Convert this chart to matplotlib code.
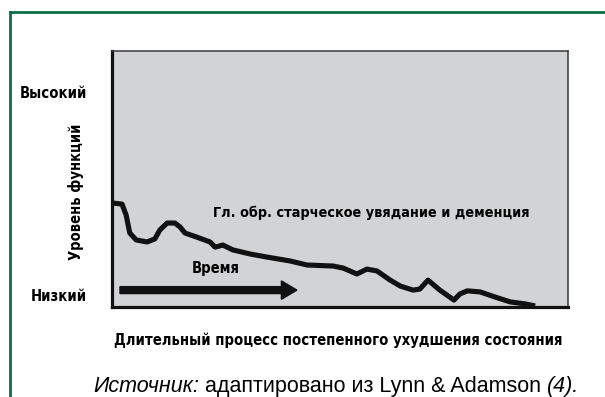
import os
import matplotlib
matplotlib.use("Agg")
import matplotlib.pyplot as plt
from matplotlib import font_manager
from matplotlib.font_manager import FontProperties
from matplotlib.lines import Line2D

# time axis (0-100) and functional level (0-100) of the decline curve
time = [0.2, 2.2, 3.1, 3.9, 5.3, 7.7, 9.4, 10.5, 12.1, 13.8, 14.9, 16.0, 18.6,
        21.5, 22.6, 23.5, 24.3, 26.5, 30.3, 34.0, 39.0, 42.8, 48.5, 50.7, 53.7,
        55.9, 58.1, 61.0, 63.2, 66.0, 67.5, 69.3, 71.9, 75.0, 76.3, 77.9, 80.7,
        84.0, 87.3, 90.6, 92.8]
level = [40.6, 40.2, 35.9, 28.9, 26.2, 25.4, 26.6, 30.1, 32.8, 32.8, 31.3, 28.9,
         27.3, 25.4, 23.4, 23.8, 24.2, 22.3, 20.7, 19.5, 18.0, 16.4, 16.0, 15.2,
         12.9, 14.8, 14.1, 10.5, 8.2, 6.6, 7.0, 10.5, 6.6, 2.7, 5.1, 6.3, 5.9,
         3.9, 2.0, 1.2, 0.4]

tick_levels = [4.7, 84.0]
tick_labels = ["Низкий", "Высокий"]

curve_label = "Гл. обр. старческое увядание и деменция"
arrow_label = "Время"
x_label = "Длительный процесс постепенного ухудшения состояния"
y_label = "Уровень функций"


def pick_narrow_bold():
    """Find a narrow bold sans face among the installed fonts."""
    files = {}
    for f in font_manager.fontManager.ttflist:
        files[os.path.splitext(os.path.basename(f.fname))[0].lower()] = f.fname
    wanted = ["liberationsansnarrow-bold", "notosans-semicondensedbold",
              "opensans-semicondensedbold", "roboto-semicondensedbold",
              "dejavusanscondensed-bold", "notosans-condensedbold",
              "opensans-condensedbold", "robotocondensed-bold"]
    for name in wanted:
        if name in files:
            return FontProperties(fname=files[name])
    for name, path in files.items():
        if ("condensed" in name or "narrow" in name) and name.endswith("bold") \
                and "semibold" not in name and "extrabold" not in name:
            return FontProperties(fname=path)
    return FontProperties(family="Liberation Sans", weight="bold")


W, H = 605, 397
fig = plt.figure(figsize=(W / 100, H / 100), dpi=100)
fig.patch.set_facecolor("white")
renderer = fig.canvas.get_renderer()

bold_fp = pick_narrow_bold()


def bold(text, width_px):
    """Bold narrow font sized so that `text` spans about width_px pixels."""
    probe = fig.text(0, 0, text, fontproperties=bold_fp, fontsize=10)
    w = probe.get_window_extent(renderer).width
    probe.remove()
    fp = bold_fp.copy()
    fp.set_size(10 * width_px / w)
    return fp


# green frame along the top and left edges
green = "#0d6e47"
fig.add_artist(Line2D([10 / W, 1], [1 - 12 / H, 1 - 12 / H], color=green, lw=2.0,
                      transform=fig.transFigure, solid_capstyle="projecting"))
fig.add_artist(Line2D([10 / W, 10 / W], [0, 1 - 12 / H], color=green, lw=2.0,
                      transform=fig.transFigure, solid_capstyle="projecting"))

ax = fig.add_axes([112 / W, 1 - 307 / H, 456 / W, 256 / H])
ax.set_facecolor("#d2d3d5")
ax.set_xlim(0, 100)
ax.set_ylim(0, 100)
for side in ("left", "bottom"):
    ax.spines[side].set_linewidth(2.3)
    ax.spines[side].set_color("#111111")
for side in ("top", "right"):
    ax.spines[side].set_linewidth(1.1)
    ax.spines[side].set_color("#3a3a3a")

ax.set_xticks([])
ax.set_yticks(tick_levels)
ax.set_yticklabels(tick_labels, fontproperties=bold("Высокий", 66))
ax.tick_params(axis="y", length=0, pad=18)

ax.plot(time, level, color="#111111", lw=3.7, solid_joinstyle="round",
        solid_capstyle="butt", clip_on=False, zorder=3)

ax.arrow(1.75, 6.6, 38.8, 0, width=2.7, head_width=7.2, head_length=3.4,
         length_includes_head=True, color="#111111", zorder=3)

ax.text(22.1, 36.7, curve_label, fontproperties=bold(curve_label, 316),
        va="center", ha="left")
ax.text(17.5, 15.2, arrow_label, fontproperties=bold(arrow_label, 48),
        va="center", ha="left")

fig.text(76 / W, 1 - 192 / H, y_label, fontproperties=bold(y_label, 135),
         rotation=90, ha="center", va="center")
fig.text(338 / W, 1 - 340 / H, x_label, fontproperties=bold(x_label, 443),
         ha="center", va="center")

# source line: italic / regular / italic pieces chained together
src1 = fig.text(93 / W, 0, "Источник:", family="Liberation Sans",
                style="italic", fontsize=15.5, ha="left", va="bottom")
src2 = ax.annotate(" адаптировано из Lynn & Adamson ", xy=(1, 0), xycoords=src1,
                   family="Liberation Sans", fontsize=15.5, ha="left",
                   va="bottom", annotation_clip=False)
ax.annotate("(4).", xy=(1, 0), xycoords=src2, family="Liberation Sans",
            style="italic", fontsize=15.5, ha="left", va="bottom",
            annotation_clip=False)

fig.savefig("out.png", dpi=100)
